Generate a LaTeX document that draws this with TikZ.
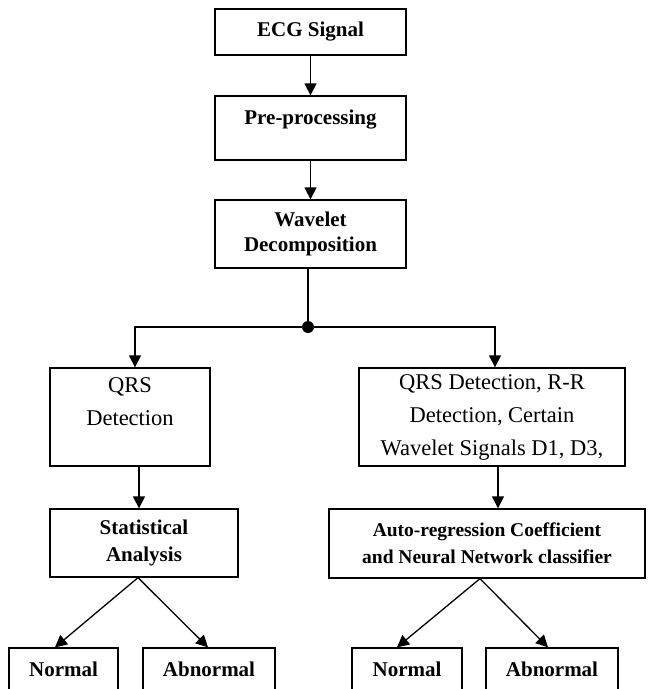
\documentclass[tikz,border=0pt]{standalone}
\usepackage{fontspec}
\setmainfont{Liberation Serif}
\usepackage{tikz}
\usetikzlibrary{positioning,calc,arrows.meta}
\tikzstyle{block} = [draw, line width=1.3pt, rectangle, inner sep=0pt, align=center,
    font=\bfseries\fontsize{21}{26}\selectfont]
\tikzstyle{lighttext} = [font=\fontsize{22.5}{33}\selectfont]
\tikzstyle{result} = [block, minimum height=42pt]
\tikzstyle{arrow} = [line width=1.3pt,-{Triangle[width=12pt,length=12pt]}]
\tikzstyle{junction} = [circle, fill=black, inner sep=0pt, minimum size=12pt]

\begin{document}
\begin{tikzpicture}[x=1pt, y=-1pt]
    \useasboundingbox (0,0) rectangle (650,689);
    \clip (0,0) rectangle (650,689);
    % We start with the main column
    \node [block, minimum width=191pt, minimum height=46pt] (ecg) at (310.5,32) {ECG Signal};
    \node [block, minimum width=191pt, minimum height=64pt, text depth=22pt] (pre) at (310.5,128) {Pre-processing};
    \node [block, minimum width=191pt, minimum height=68pt, font=\bfseries\fontsize{21}{25}\selectfont] (wav) at (310.5,234) {Wavelet\\Decomposition};
    \node [junction] (split) at (308,327) {};
    % the two branches
    \node [block, lighttext, minimum width=160pt, minimum height=98pt, text depth=31pt] (qrs) at (130,417) {QRS\\Detection};
    \node [block, lighttext, minimum width=266pt, minimum height=98pt] (rr) at (492,417) {QRS Detection, R-R\\Detection, Certain\\Wavelet Signals D1, D3,};
    \node [block, minimum width=188pt, minimum height=68pt, font=\bfseries\fontsize{21}{27}\selectfont] (stat) at (144,543) {Statistical\\Analysis};
    \node [block, minimum width=316pt, minimum height=69pt, font=\bfseries\fontsize{19.5}{27}\selectfont] (auto) at (487,543.5) {Auto-regression Coefficient\\and Neural Network classifier};
    % outcomes
    \node [result, minimum width=109pt] (norm1) at (63.5,669) {Normal};
    \node [result, minimum width=132pt] (abn1) at (209,669) {Abnormal};
    \node [result, minimum width=110pt] (norm2) at (407,669) {Normal};
    \node [result, minimum width=132pt] (abn2) at (552,669) {Abnormal};
    % connectors
    \draw [arrow] (ecg) -- (pre);
    \draw [arrow] (pre) -- (wav);
    \draw [line width=1.3pt] (split |- wav.south) -- (split);
    \draw [arrow] (split) -| ([xshift=5pt]qrs.north);
    \draw [arrow] (split) -| ([xshift=3pt]rr.north);
    \draw [arrow] ([xshift=9pt]qrs.south) -- ([xshift=9pt]qrs.south |- stat.north);
    \draw [arrow] ([xshift=6pt]rr.south) -- ([xshift=6pt]rr.south |- auto.north);
    \draw [arrow] ([xshift=-6pt]stat.south) -- ([xshift=-8.5pt]norm1.north);
    \draw [arrow] ([xshift=-6pt]stat.south) -- ([xshift=-1pt]abn1.north);
    \draw [arrow] ([xshift=-7pt]auto.south) -- ([xshift=-10pt]norm2.north);
    \draw [arrow] ([xshift=-7pt]auto.south) -- ([xshift=-4pt]abn2.north);
\end{tikzpicture}
\end{document}
